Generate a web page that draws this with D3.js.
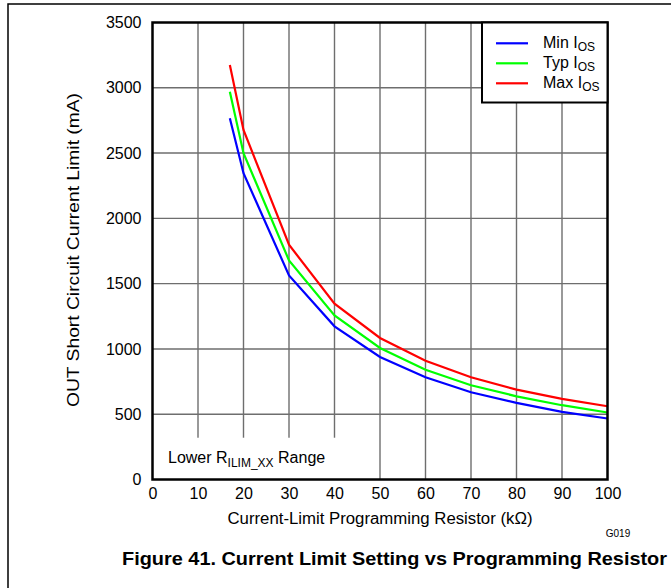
<!DOCTYPE html>
<html><head><meta charset="utf-8">
<script src="https://cdn.jsdelivr.net/npm/d3@7"></script>
<style>
html,body{margin:0;padding:0;background:#fff;}
svg{display:block;font-family:"Liberation Sans",Arial,sans-serif;}
</style></head>
<body>
<svg id="c" width="671" height="588"></svg>
<script>
const resistor = [17, 20, 30, 40, 50, 60, 70, 80, 90, 100];
const minIos = [2767, 2346, 1563, 1173, 938, 783, 668, 587, 518, 467];
const typIos = [2970, 2499, 1678, 1257, 1007, 841, 722, 637, 569, 513];
const maxIos = [3175, 2677, 1798, 1346, 1084, 910, 783, 688, 617, 561];
const xTicks = [0,10,20,30,40,50,60,70,80,90,100];
const yTicks = [0,500,1000,1500,2000,2500,3000,3500];
const seriesNames = ["Min", "Typ", "Max"];
const seriesColors = ["#0000ff", "#00ff00", "#ff0000"];
const seriesData = [minIos, typIos, maxIos];

const svg = d3.select("#c");
// outer frame
svg.append("rect").attr("x",8).attr("y",4).attr("width",700).attr("height",620)
  .attr("fill","none").attr("stroke","#000").attr("stroke-width",1.5);

const L=152.5, R=607.5, T=22.5, B=479.5;
const x = d3.scaleLinear().domain([0,100]).range([L,R]);
const y = d3.scaleLinear().domain([0,3500]).range([B,T]);

// grid
const g = svg.append("g");
g.selectAll(".vg").data(xTicks.slice(1,-1)).enter().append("line")
  .attr("x1",d=>x(d)).attr("x2",d=>x(d)).attr("y1",T).attr("y2",B)
  .attr("stroke","#6e6e6e").attr("stroke-width",1.4);
g.selectAll(".hg").data(yTicks.slice(1,-1)).enter().append("line")
  .attr("x1",L).attr("x2",R).attr("y1",d=>y(d)).attr("y2",d=>y(d))
  .attr("stroke","#6e6e6e").attr("stroke-width",1.4);

// white box behind range label
svg.append("rect").attr("x",x(0)).attr("y",y(320)).attr("width",x(45)-x(0)).attr("height",B-y(320))
  .attr("fill","#fff");

// lines
const line = d3.line().x((d,i)=>x(resistor[i])).y(d=>y(d));
seriesData.forEach((s,k)=>{
  svg.append("path").datum(s).attr("d",line).attr("fill","none")
    .attr("stroke",seriesColors[k]).attr("stroke-width",2.2);
});

// frame
svg.append("rect").attr("x",L).attr("y",T).attr("width",R-L).attr("height",B-T)
  .attr("fill","none").attr("stroke","#000").attr("stroke-width",2.5);

const FF = "Liberation Sans, Arial, sans-serif";
// axes labels via d3 axes
const xAxis = d3.axisBottom(x).tickValues(xTicks).tickSize(0).tickPadding(8).tickFormat(d3.format("d"));
const xa = svg.append("g").attr("transform",`translate(0,${B})`).call(xAxis);
xa.select(".domain").remove();
xa.selectAll("text").attr("font-size",16).attr("fill","#000").attr("font-family",FF);

const yAxis = d3.axisLeft(y).tickValues(yTicks).tickSize(0).tickPadding(11).tickFormat(d3.format("d"));
const ya = svg.append("g").attr("transform",`translate(${L},0)`).call(yAxis);
ya.select(".domain").remove();
ya.selectAll("text").attr("font-size",16).attr("fill","#000").attr("font-family",FF);

// axis titles
svg.append("text").attr("x",380).attr("y",524).attr("text-anchor","middle")
  .attr("font-size",16).attr("textLength",305).attr("lengthAdjust","spacingAndGlyphs")
  .text("Current-Limit Programming Resistor (kΩ)");
svg.append("text").attr("transform","translate(79,250) rotate(-90)").attr("text-anchor","middle")
  .attr("font-size",16).attr("textLength",314).attr("lengthAdjust","spacingAndGlyphs")
  .text("OUT Short Circuit Current Limit  (mA)");

// range label
const rl = svg.append("text").attr("x",168).attr("y",463).attr("font-size",16);
rl.append("tspan").text("Lower R");
rl.append("tspan").attr("font-size",12).attr("dy",4).text("ILIM_XX");
rl.append("tspan").attr("dy",-4).text(" Range");

// legend
const lg = svg.append("g");
lg.append("rect").attr("x",482).attr("y",T).attr("width",R-482).attr("height",80)
  .attr("fill","#fff").attr("stroke","#000").attr("stroke-width",2);
seriesNames.forEach((n,i)=>{
  const yy = 43.3 + i*20;
  lg.append("line").attr("x1",496).attr("x2",528).attr("y1",yy).attr("y2",yy)
    .attr("stroke",seriesColors[i]).attr("stroke-width",2.2);
  const t = lg.append("text").attr("x",543).attr("y",yy+5).attr("font-size",16);
  t.append("tspan").text(n+" I");
  t.append("tspan").attr("font-size",12).attr("dy",3).text("OS");
});

// code and caption
svg.append("text").attr("x",618).attr("y",537).attr("text-anchor","middle").attr("font-size",10).text("G019");
svg.append("text").attr("x",394.5).attr("y",565).attr("text-anchor","middle").attr("font-size",18)
  .attr("font-weight","bold").attr("textLength",545).attr("lengthAdjust","spacingAndGlyphs")
  .text("Figure 41. Current Limit Setting vs Programming Resistor");
</script>
</body></html>
